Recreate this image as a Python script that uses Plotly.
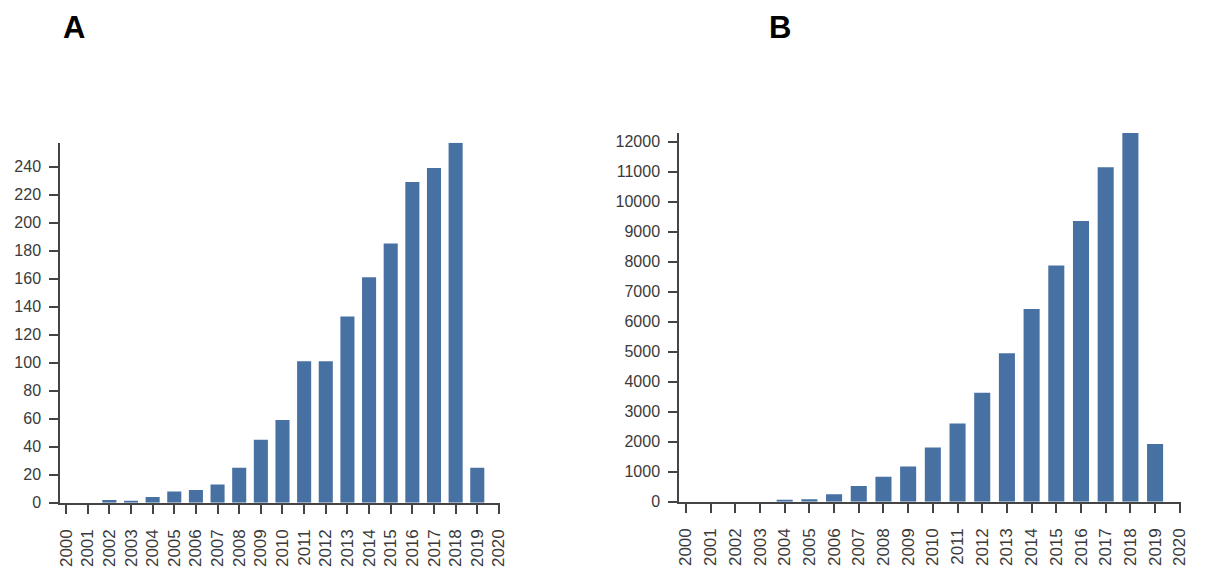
import plotly.graph_objects as go

years = list(range(2000, 2020))
values_a = [0, 0, 2, 1, 4, 8, 9, 13, 25, 45, 59, 101, 101, 133, 161, 185, 229, 239, 257, 25]
values_b = [0, 0, 0, 0, 50, 80, 250, 520, 830, 1170, 1810, 2610, 3630, 4950, 6420, 7870, 9360, 11150, 12290, 1920]
x_ticks = list(range(2000, 2021))
x_labels = [str(y) for y in x_ticks]
y_ticks_a = list(range(0, 241, 20))
y_ticks_b = list(range(0, 12001, 1000))
panel_titles = ["A", "B"]

bar_color = "#4770a3"
axis_color = "#444444"
text_color = "#3a3a3a"
font_family = "Liberation Sans, Arial, sans-serif"

W, H = 1205, 576
OFF = 8  # default page body margin shifts the figure by this many pixels


def px_x(p):
    return (p - OFF) / W


def px_y(p):
    return (H - (p - OFF)) / H


fig = go.Figure()
fig.add_trace(go.Bar(x=years, y=values_a, width=0.65, marker=dict(color=bar_color, line=dict(width=0)),
                     xaxis="x", yaxis="y", showlegend=False))
fig.add_trace(go.Bar(x=years, y=values_b, width=0.65, marker=dict(color=bar_color, line=dict(width=0)),
                     xaxis="x2", yaxis="y2", showlegend=False))


def xaxis(domain, anchor):
    return dict(domain=domain, range=[1999.72, 2020.05], tickmode="array", tickvals=x_ticks, ticktext=x_labels,
                tickangle=-90, ticks="outside", ticklen=10, tickwidth=1.5, tickcolor=axis_color,
                ticklabelstandoff=8,
                showline=True, linecolor=axis_color, linewidth=1.5, showgrid=False, zeroline=False,
                tickfont=dict(family=font_family, size=17, color=text_color), automargin=False,
                anchor=anchor, fixedrange=True)


def yaxis(domain, rng, ticks, anchor):
    return dict(domain=domain, range=rng, tickmode="array", tickvals=ticks, ticktext=[str(t) for t in ticks],
                ticks="outside", ticklen=9, tickwidth=1.5, tickcolor=axis_color,
                ticklabelstandoff=5,
                showline=True, linecolor=axis_color, linewidth=1.5, showgrid=False, zeroline=False,
                tickfont=dict(family=font_family, size=16, color=text_color), automargin=False,
                anchor=anchor, fixedrange=True)


fig.update_layout(
    width=W, height=H,
    margin=dict(l=0, r=0, t=0, b=0),
    paper_bgcolor="white", plot_bgcolor="white",
    xaxis=xaxis([px_x(60), px_x(500)], "y"),
    yaxis=yaxis([px_y(502.7), px_y(142.7)], [0, 257], y_ticks_a, "x"),
    xaxis2=xaxis([px_x(679), px_x(1181)], "y2"),
    yaxis2=yaxis([px_y(501.7), px_y(132.7)], [0, 12300], y_ticks_b, "x2"),
    annotations=[
        dict(text="<b>%s</b>" % panel_titles[0], x=px_x(74), y=1, xref="paper", yref="paper",
             xanchor="center", yanchor="top", showarrow=False,
             font=dict(family=font_family, size=31, color="black")),
        dict(text="<b>%s</b>" % panel_titles[1], x=px_x(780), y=1, xref="paper", yref="paper",
             xanchor="center", yanchor="top", showarrow=False,
             font=dict(family=font_family, size=31, color="black")),
    ],
)

fig.write_html("out.html")
